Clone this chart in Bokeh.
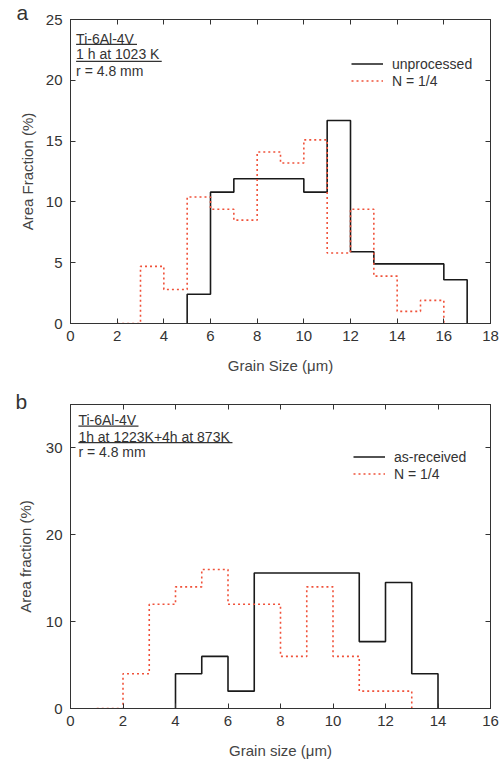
from bokeh.plotting import figure
from bokeh.models import LinearAxis, Label, Legend, LegendItem, Range1d, FixedTicker
from bokeh.layouts import column
from bokeh.embed import file_html
from bokeh.resources import INLINE

# ---------------- data ----------------
a_x_ticks = [0, 2, 4, 6, 8, 10, 12, 14, 16, 18]
a_y_ticks = [0, 5, 10, 15, 20, 25]
a_unproc_left = [5, 6, 7, 8, 9, 10, 11, 12, 13, 14, 15, 16]
a_unproc_vals = [2.4, 10.8, 11.9, 11.9, 11.9, 10.8, 16.7, 5.9, 4.9, 4.9, 4.9, 3.6]
a_n14_left = [2, 3, 4, 5, 6, 7, 8, 9, 10, 11, 12, 13, 14, 15]
a_n14_vals = [0, 4.7, 2.8, 10.4, 9.4, 8.5, 14.1, 13.2, 15.1, 5.8, 9.4, 3.9, 1.0, 1.9]

b_x_ticks = [0, 2, 4, 6, 8, 10, 12, 14, 16]
b_y_ticks = [0, 10, 20, 30]
b_asrec_left = [4, 5, 6, 7, 8, 9, 10, 11, 12, 13]
b_asrec_vals = [4, 6, 2, 15.6, 15.6, 15.6, 15.6, 7.7, 14.5, 4]
b_n14_left = [1, 2, 3, 4, 5, 6, 7, 8, 9, 10, 11, 12]
b_n14_vals = [0, 4, 12, 14, 16, 12, 12, 6, 14, 6, 2, 2]

FONT = "Liberation Sans"
TXT = "#333333"
BLACK = "#1a1a1a"
RED = "#f0523a"


def step_path(lefts, vals, w=1):
    xs, ys = [lefts[0]], [0]
    for l, v in zip(lefts, vals):
        xs += [l, l + w]
        ys += [v, v]
    xs.append(lefts[-1] + w)
    ys.append(0)
    return xs, ys


def make_panel(height, bl, br, bt, bb, xmax, ymax, xticks, yticks, xlabel, ylabel, ylab_standoff):
    p = figure(width=499, height=height, x_range=Range1d(0, xmax), y_range=Range1d(0, ymax),
               output_backend="svg", toolbar_location=None,
               min_border_left=bl, min_border_right=br, min_border_top=bt, min_border_bottom=bb)
    p.grid.visible = False
    p.outline_line_color = TXT
    p.outline_line_width = 1
    p.background_fill_color = "white"
    p.border_fill_color = "white"
    bottom = p.below[0]
    left = p.left[0]
    bottom.ticker = FixedTicker(ticks=xticks)
    left.ticker = FixedTicker(ticks=yticks)
    bottom.axis_label = xlabel
    left.axis_label = ylabel
    top = LinearAxis(ticker=FixedTicker(ticks=xticks))
    right = LinearAxis(ticker=FixedTicker(ticks=yticks))
    p.add_layout(top, "above")
    p.add_layout(right, "right")
    for ax in [bottom, left, top, right]:
        ax.major_tick_in = 5
        ax.major_tick_out = 0
        ax.minor_tick_line_color = None
        ax.axis_line_color = TXT
        ax.major_tick_line_color = TXT
        ax.major_label_text_font = FONT
        ax.major_label_text_font_size = "15px"
        ax.major_label_text_color = TXT
        ax.axis_label_text_font = FONT
        ax.axis_label_text_font_size = "15px"
        ax.axis_label_text_font_style = "normal"
        ax.axis_label_text_color = "#444444"
    for ax in [top, right]:
        ax.major_label_text_font_size = "1px"
        ax.major_label_text_color = None
        ax.major_label_standoff = 0
    bottom.major_label_standoff = 7
    bottom.axis_label_standoff = 13
    left.major_label_standoff = 8
    left.axis_label_standoff = ylab_standoff
    return p


def add_text(p, x, y, text, size="14px", align="left", baseline="middle", place="center"):
    p.add_layout(Label(x=x, y=y, text=text, text_font=FONT, text_font_size=size,
                       text_color=TXT, text_align=align, text_baseline=baseline), place)


# ---------------- panel a ----------------
pa = make_panel(380, 68, 9, 19, 57, 18, 25, a_x_ticks, a_y_ticks,
                "Grain Size (μm)", "Area Fraction (%)", 7)
xs, ys = step_path(a_unproc_left, a_unproc_vals)
ra1 = pa.line(xs, ys, line_color=BLACK, line_width=1.6)
xs, ys = step_path(a_n14_left, a_n14_vals)
ra2 = pa.line(xs, ys, line_color=RED, line_width=1.6, line_dash="2 3")
leg_a = Legend(items=[LegendItem(label="unprocessed", renderers=[ra1]),
                      LegendItem(label="N = 1/4", renderers=[ra2])],
               location=(281, 234), border_line_color=None, background_fill_alpha=0,
               padding=0, margin=0, spacing=0, glyph_width=32, glyph_height=17,
               label_height=17, label_standoff=9, label_text_font=FONT,
               label_text_font_size="14px", label_text_color=TXT)
pa.add_layout(leg_a)
add_text(pa, 0.24, 23.4, "Ti-6Al-4V")
add_text(pa, 0.24, 22.15, "1 h at 1023 K")
add_text(pa, 0.24, 20.8, "r = 4.8 mm")
pa.line([0.24, 2.85], [22.95, 22.95], line_color=TXT, line_width=1.2)
pa.line([0.24, 3.91], [21.55, 21.55], line_color=TXT, line_width=1.2)
add_text(pa, -2.06, 25.58, "a", size="21px", align="center", place="left")

# ---------------- panel b ----------------
pb = make_panel(383, 70, 9, 24, 55, 16, 35, b_x_ticks, b_y_ticks,
                "Grain size (μm)", "Area fraction (%)", 9)
xs, ys = step_path(b_asrec_left, b_asrec_vals)
rb1 = pb.line(xs, ys, line_color=BLACK, line_width=1.6)
xs, ys = step_path(b_n14_left, b_n14_vals)
rb2 = pb.line(xs, ys, line_color=RED, line_width=1.6, line_dash="2 3")
leg_b = Legend(items=[LegendItem(label="as-received", renderers=[rb1]),
                      LegendItem(label="N = 1/4", renderers=[rb2])],
               location=(283, 226), border_line_color=None, background_fill_alpha=0,
               padding=0, margin=0, spacing=0, glyph_width=32, glyph_height=17,
               label_height=17, label_standoff=9, label_text_font=FONT,
               label_text_font_size="14px", label_text_color=TXT)
pb.add_layout(leg_b)
add_text(pb, 0.30, 33.2, "Ti-6Al-4V")
add_text(pb, 0.30, 31.25, "1h at 1223K+4h at 873K")
add_text(pb, 0.30, 29.5, "r = 4.8 mm")
pb.line([0.30, 2.59], [32.5, 32.5], line_color=TXT, line_width=1.2)
pb.line([0.30, 6.17], [30.6, 30.6], line_color=TXT, line_width=1.2)
add_text(pb, -1.87, 35.34, "b", size="21px", align="center", place="left")

layout = column(pa, pb, spacing=0)
open("out.html", "w").write(file_html(layout, INLINE))
